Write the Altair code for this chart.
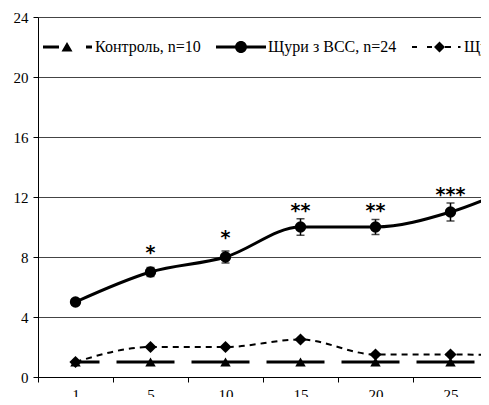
import altair as alt
import pandas as pd

# ---- data ----
days = ["1", "5", "10", "15", "20", "25", "30"]
series_names = ["Контроль, n=10", "Щури з ВСС, n=24", "Щури з ВСС + корекція, n=12"]
control = [1, 1, 1, 1, 1, 1, 1]
vss = [5, 7, 8, 10, 10, 11, 13]
vss_err = [0.2, 0.3, 0.4, 0.55, 0.5, 0.6, 0.6]
treated = [1, 2, 2, 2.5, 1.5, 1.5, 1.4]
stars = ["", "*", "*", "**", "**", "***", ""]
star_y = [None, 8.67, 9.67, 11.47, 11.47, 12.53, None]
y_ticks = [0, 4, 8, 12, 16, 20, 24]

rows = []
for name, vals in zip(series_names, [control, vss, treated]):
    for d, v in zip(days, vals):
        rows.append({"day": d, "series": name, "value": v})
long_df = pd.DataFrame(rows)

vss_df = pd.DataFrame({
    "day": days,
    "value": vss,
    "lo": [v - e for v, e in zip(vss, vss_err)],
    "hi": [v + e for v, e in zip(vss, vss_err)],
    "star": stars,
    "star_y": star_y,
})

FONT = "Liberation Serif"

x_enc = alt.X(
    "day:O",
    sort=days,
    bandPosition=0.5,
    scale=alt.Scale(type="band", domain=days, range=[0, 525], paddingInner=0, paddingOuter=0),
    axis=alt.Axis(
        title=None, tickBand="extent", grid=False, labelAngle=0,
        domainColor="black", tickColor="black", tickSize=5, domainWidth=1,
        labelBaseline="top", labelPadding=5, labelFont=FONT, labelFontSize=15,
    ),
)
y_scale = alt.Scale(domain=[0, 24], nice=False, zero=True)
y_axis = alt.Axis(
    title=None, values=y_ticks, grid=True, gridColor="#444444", gridWidth=1,
    domainColor="black", tickColor="black", tickSize=5, labelPadding=5,
    labelFont=FONT, labelFontSize=15,
)

base = alt.Chart(long_df)

control_line = base.transform_filter(
    alt.datum.series == series_names[0]
).mark_line(color="black", strokeWidth=3, strokeDash=[58, 17], strokeDashOffset=34).encode(
    x=x_enc, y=alt.Y("value:Q", scale=y_scale, axis=y_axis)
)

vss_line = base.transform_filter(
    alt.datum.series == series_names[1]
).mark_line(color="black", strokeWidth=3, interpolate="monotone").encode(
    x=x_enc, y=alt.Y("value:Q", scale=y_scale)
)

treated_line = base.transform_filter(
    alt.datum.series == series_names[2]
).mark_line(color="black", strokeWidth=2, strokeDash=[6, 5], interpolate="monotone").encode(
    x=x_enc, y=alt.Y("value:Q", scale=y_scale)
)

err_rule = alt.Chart(vss_df).mark_rule(color="black", strokeWidth=1.5).encode(
    x=x_enc, y=alt.Y("lo:Q", scale=y_scale), y2="hi:Q"
)
err_top = alt.Chart(vss_df).mark_tick(color="black", size=8, thickness=1.5, orient="horizontal").encode(
    x=x_enc, y=alt.Y("hi:Q", scale=y_scale)
)
err_bot = alt.Chart(vss_df).mark_tick(color="black", size=8, thickness=1.5, orient="horizontal").encode(
    x=x_enc, y=alt.Y("lo:Q", scale=y_scale)
)

markers = base.mark_point(filled=True, color="black", opacity=1).encode(
    x=x_enc,
    y=alt.Y("value:Q", scale=y_scale),
    shape=alt.Shape("series:N", scale=alt.Scale(domain=series_names,
                                                range=["triangle-up", "circle", "diamond"]), legend=None),
    size=alt.Size("series:N", scale=alt.Scale(domain=series_names, range=[110, 150, 120]), legend=None),
)

star_text = alt.Chart(vss_df).transform_filter(alt.datum.star != "").mark_text(
    font="DejaVu Sans", fontSize=19, fontWeight="bold", color="black", baseline="middle", dy=6
).encode(x=x_enc, y=alt.Y("star_y:Q", scale=y_scale), text="star:N")

# legend symbols: line + marker drawn as one custom path (unit = half of symbol width)
p_control = ("M-1,-0.06H-0.36V0.06H-1Z "
             "M-0.04,-0.2L0.18,0.18L-0.26,0.18Z "
             "M0.72,-0.06H0.96V0.06H0.72Z")
p_vss = ("M-1,-0.06H1V0.06H-1Z "
         "M-0.24,0A0.24,0.24 0 1,1 0.24,0A0.24,0.24 0 1,1 -0.24,0Z")
p_treated = ("M-1,-0.04H-0.8V0.04H-1Z "
             "M-0.4,-0.04H-0.2V0.04H-0.4Z "
             "M0.1,-0.22L0.32,0L0.1,0.22L-0.12,0Z "
             "M0.32,-0.04H0.56V0.04H0.32Z "
             "M0.84,-0.04H0.94V0.04H0.84Z")

legend_layer = base.transform_filter("false").mark_point(filled=True, color="black", opacity=1).encode(
    shape=alt.Shape(
        "series:N",
        scale=alt.Scale(domain=series_names, range=[p_control, p_vss, p_treated]),
        legend=alt.Legend(
            title=None, orient="none", legendX=5, legendY=5, direction="horizontal",
            symbolSize=2500, symbolStrokeWidth=0, symbolFillColor="black", symbolOpacity=1,
            labelOffset=2, columnPadding=15, padding=0, labelLimit=400,
            labelFont=FONT, labelFontSize=16,
        ),
    )
)

chart = alt.layer(
    control_line, treated_line, vss_line, err_rule, err_top, err_bot, markers, star_text, legend_layer
).resolve_scale(shape="independent").properties(
    width=443, height=360,
    autosize=alt.AutoSizeParams(type="none"),
    padding={"left": 30, "top": 9, "right": 0, "bottom": 20},
).configure(
    background="white", font=FONT
).configure_view(
    stroke=None
).configure_axis(
    labelColor="black"
).configure_legend(
    labelColor="black"
)

chart.save("out.html", embed_options={"renderer": "svg", "actions": False})
